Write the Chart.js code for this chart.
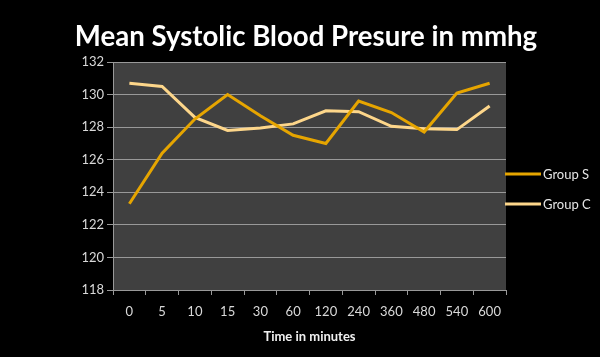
<!DOCTYPE html>
<html>
<head>
<meta charset="utf-8">
<script src="https://cdn.jsdelivr.net/npm/chart.js@4/dist/chart.umd.min.js"></script>
<style>
  html, body { margin: 0; padding: 0; background: #000; }
  #wrap { width: 600px; height: 357px; }
</style>
</head>
<body>
<div id="wrap"><canvas id="c" width="600" height="357"></canvas></div>
<script>
const categories = ['0', '5', '10', '15', '30', '60', '120', '240', '360', '480', '540', '600'];
const groupS = [123.3, 126.4, 128.5, 130.0, 128.7, 127.5, 127.0, 129.6, 128.9, 127.7, 130.1, 130.7];
const groupC = [130.7, 130.5, 128.6, 127.8, 127.95, 128.2, 129.0, 128.95, 128.05, 127.9, 127.85, 129.3];
const yTicks = [118, 120, 122, 124, 126, 128, 130, 132];

const FONT = 'Lato, "Open Sans", sans-serif';

const bgPlugin = {
  id: 'bg',
  beforeDraw(chart) {
    const { ctx, chartArea: a } = chart;
    ctx.save();
    ctx.fillStyle = '#000';
    ctx.fillRect(0, 0, chart.width, chart.height);
    ctx.fillStyle = '#404040';
    ctx.fillRect(a.left, a.top, a.right - a.left, a.bottom - a.top);
    ctx.restore();
  }
};

const legendPlugin = {
  id: 'sideLegend',
  afterDraw(chart) {
    const { ctx } = chart;
    const ys = [174, 204];
    ctx.save();
    chart.data.datasets.forEach((ds, i) => {
      ctx.strokeStyle = ds.borderColor;
      ctx.lineWidth = 3;
      ctx.beginPath();
      ctx.moveTo(505, ys[i]);
      ctx.lineTo(541, ys[i]);
      ctx.stroke();
      ctx.fillStyle = '#e6e6e6';
      ctx.font = '13px ' + FONT;
      ctx.textBaseline = 'middle';
      ctx.textAlign = 'left';
      ctx.fillText(ds.label, 543, ys[i] + 1);
    });
    ctx.restore();
  }
};

new Chart(document.getElementById('c'), {
  type: 'line',
  data: {
    labels: categories,
    datasets: [
      { label: 'Group S', data: groupS, borderColor: '#e6a500', borderWidth: 3, pointRadius: 0, tension: 0, yAxisID: 'y' },
      { label: 'Group C', data: groupC, borderColor: '#fdd68a', borderWidth: 3, pointRadius: 0, tension: 0, yAxisID: 'y' }
    ]
  },
  options: {
    responsive: false,
    animation: false,
    layout: { padding: { left: 12, right: 0, top: 0, bottom: 0 } },
    plugins: {
      legend: { display: false },
      tooltip: { enabled: false },
      title: {
        display: true,
        text: 'Mean Systolic Blood Presure in mmhg',
        color: '#ffffff',
        font: { family: FONT, size: 27.6, weight: 'bold', lineHeight: 1.2 },
        padding: { top: 20.5, bottom: 8.4 }
      }
    },
    scales: {
      x: {
        offset: true,
        grid: { display: true, offset: true, drawOnChartArea: false, drawTicks: true, tickLength: 5, color: '#999999' },
        border: { display: true, color: '#999999', width: 1 },
        ticks: { color: '#d9d9d9', font: { family: FONT, size: 13 }, padding: 9, maxRotation: 0, autoSkip: false },
        title: { display: true, text: 'Time in minutes', color: '#f0f0f0', font: { family: FONT, size: 13, weight: 'bold' }, padding: { top: 4, bottom: 12 } },
        afterFit(s) { s.height = 67; }
      },
      y: {
        min: 118, max: 132,
        afterBuildTicks(s) { s.ticks = yTicks.map(v => ({ value: v })); },
        grid: { color: '#999999', lineWidth: 1, tickLength: 6, drawTicks: true },
        border: { display: true, color: '#999999' },
        ticks: { color: '#d9d9d9', font: { family: FONT, size: 13 }, padding: 3 },
        afterFit(s) { s.width = 101; }
      },
      yr: {
        position: 'right',
        display: true,
        min: 118, max: 132,
        grid: { display: false, drawTicks: false },
        border: { display: false },
        ticks: { display: false },
        afterFit(s) { s.width = 94; }
      }
    }
  },
  plugins: [bgPlugin, legendPlugin]
});
</script>
</body>
</html>
